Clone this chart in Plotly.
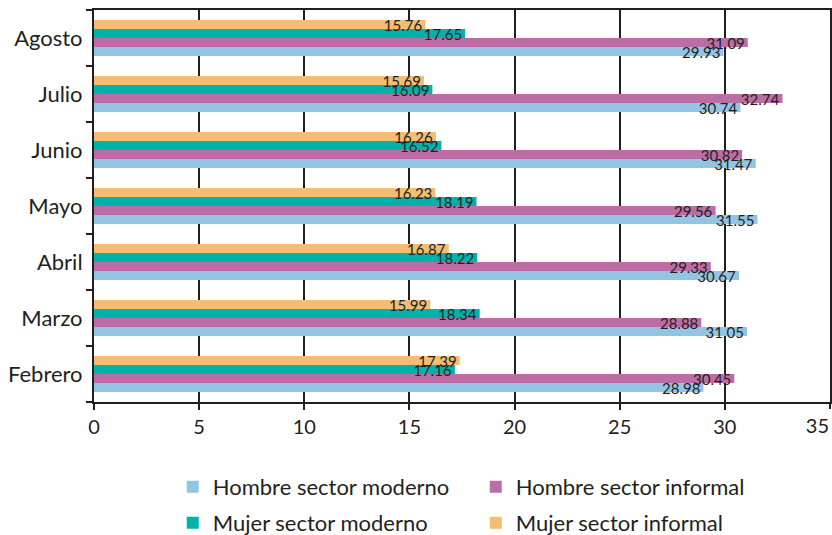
import plotly.graph_objects as go

months = ["Febrero", "Marzo", "Abril", "Mayo", "Junio", "Julio", "Agosto"]
hombre_moderno = [28.98, 31.05, 30.67, 31.55, 31.47, 30.74, 29.93]
hombre_informal = [30.45, 28.88, 29.33, 29.56, 30.82, 32.74, 31.09]
mujer_moderno = [17.16, 18.34, 18.22, 18.19, 16.52, 16.09, 17.65]
mujer_informal = [17.39, 15.99, 16.87, 16.23, 16.26, 15.69, 15.76]
x_ticks_main = [0, 5, 10, 15, 20, 25, 30]
x_tick_last = [35]

series = [
    ("Hombre sector moderno", hombre_moderno, "#93C5E3", "legend"),
    ("Hombre sector informal", hombre_informal, "#BB6EA6", "legend"),
    ("Mujer sector moderno", mujer_moderno, "#00B3AA", "legend2"),
    ("Mujer sector informal", mujer_informal, "#F3BD74", "legend2"),
]

FONT = "Lato"
INK = "#231F20"
fig = go.Figure()
for name, vals, col, lg in series:
    fig.add_trace(go.Bar(
        y=months, x=vals, name=name, orientation="h", legend=lg,
        marker=dict(color=col, line=dict(width=0)),
        text=[f"{v:.2f}" for v in vals],
        textposition="inside", insidetextanchor="end",
        constraintext="none", textangle=0,
        insidetextfont=dict(family=FONT, size=15, color=INK),
        cliponaxis=False,
    ))

# invisible helper trace so the secondary x axis (last tick label) is drawn
fig.add_trace(go.Scatter(
    x=x_tick_last, y=[months[0]], xaxis="x2", mode="markers",
    marker=dict(opacity=0), showlegend=False, hoverinfo="skip",
))

legend_common = dict(
    orientation="h", x=0.107, xanchor="left", yanchor="middle",
    yref="container",
    font=dict(family=FONT, size=22, color=INK),
    entrywidth=258, entrywidthmode="pixels", traceorder="normal",
    bgcolor="rgba(0,0,0,0)",
)

fig.update_layout(
    width=832, height=535,
    margin=dict(l=94, r=2, t=10, b=133),
    barmode="group", bargap=0.357, bargroupgap=0,
    plot_bgcolor="white", paper_bgcolor="white",
    font=dict(family=FONT, color=INK),
    showlegend=True,
    legend=dict(legend_common, y=0.0897),
    legend2=dict(legend_common, y=0.0224),
    xaxis=dict(
        range=[0, 35], tickvals=x_ticks_main, automargin=False,
        showgrid=True, gridcolor=INK, gridwidth=1.5,
        showline=True, linecolor=INK, linewidth=2, mirror=True,
        ticks="outside", ticklen=6, tickcolor=INK, tickwidth=2,
        tickfont=dict(family=FONT, size=20, color=INK),
        zeroline=False,
    ),
    xaxis2=dict(
        range=[0, 35], tickvals=x_tick_last, overlaying="x", side="bottom",
        automargin=False, showgrid=False, showline=False, zeroline=False,
        ticks="outside", ticklen=6, tickcolor=INK, tickwidth=2,
        ticklabelposition="outside left", ticklabelstandoff=6,
        tickfont=dict(family=FONT, size=20, color=INK),
    ),
    yaxis=dict(
        categoryorder="array", categoryarray=months, automargin=False,
        showline=True, linecolor=INK, linewidth=2, mirror=True,
        ticks="outside", ticklen=6, tickcolor=INK, tickwidth=2,
        tickson="boundaries", ticklabelstandoff=5,
        tickfont=dict(family=FONT, size=22, color=INK),
        showgrid=False,
    ),
)

fig.write_html("out.html", config={"displayModeBar": False},
               post_script="document.body.style.margin='0';")
